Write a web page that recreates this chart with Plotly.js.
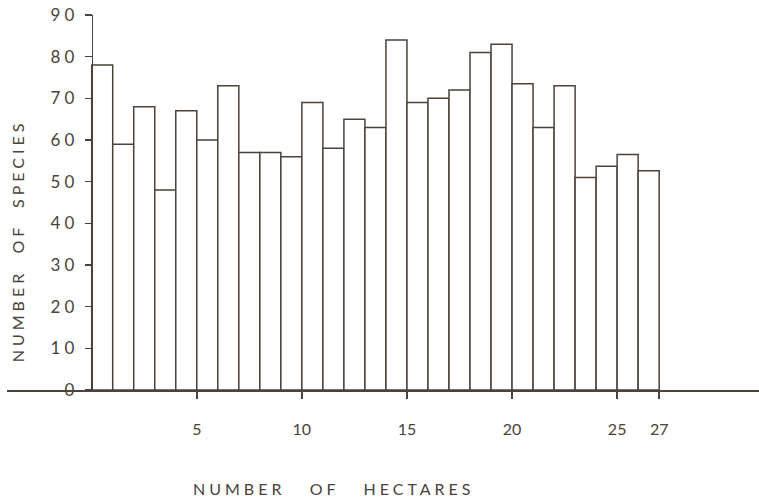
<!DOCTYPE html>
<html>
<head>
<meta charset="utf-8">
<script src="https://cdn.plot.ly/plotly-3.0.1.min.js"></script>
<style>
  html, body { margin: 0; padding: 0; background: #ffffff; }
  #chart { width: 759px; height: 501px; }
  .ytick text { letter-spacing: 4px; }
  .annotation-text { letter-spacing: 4px; }
</style>
</head>
<body>
<div id="chart"></div>
<script>
// Hectare number (each bar spans from hectare-1 to hectare)
var hectares = [1, 2, 3, 4, 5, 6, 7, 8, 9, 10, 11, 12, 13, 14, 15, 16, 17, 18, 19, 20, 21, 22, 23, 24, 25, 26, 27];
// Number of species per hectare
var species = [78, 59, 68, 48, 67, 60, 73, 57, 57, 56, 69, 58, 65, 63, 84, 69, 70, 72, 81, 83, 73.5, 63, 73, 51, 53.7, 56.5, 52.6];
// Axis ticks
var xTickVals = [5, 10, 15, 20, 25, 27];
var xTickText = ['5', '10', '15', '20', '25', '27'];
var yTickVals = [0, 10, 20, 30, 40, 50, 60, 70, 80, 90];
var yTickText = ['0', '10', '20', '30', '40', '50', '60', '70', '80', '90'];
var xTitle = 'NUMBER   OF   HECTARES';
var yTitle = 'NUMBER  OF  SPECIES';

var ink = '#4a423b';
var fontFam = 'Lato, "Open Sans", "DejaVu Sans", sans-serif';

var trace = {
  type: 'bar',
  x: hectares,
  y: species,
  width: 1,
  offset: -1,
  marker: { color: '#ffffff', line: { color: ink, width: 1.5 } },
  hoverinfo: 'x+y'
};

var layout = {
  width: 759,
  height: 501,
  margin: { l: 7, r: 0, t: 15, b: 111, pad: 0 },
  paper_bgcolor: '#ffffff',
  plot_bgcolor: 'rgba(0,0,0,0)',
  showlegend: false,
  bargap: 0,
  font: { family: fontFam, color: ink },
  xaxis: {
    range: [-4.03, 31.75],
    showgrid: false,
    zeroline: false,
    showline: true,
    linecolor: ink,
    linewidth: 1.6,
    ticks: 'outside',
    ticklen: 7,
    tickwidth: 1.5,
    tickcolor: ink,
    tickmode: 'array',
    tickvals: xTickVals,
    ticktext: xTickText,
    ticklabelstandoff: 17,
    tickfont: { family: fontFam, size: 16, color: ink },
    fixedrange: true
  },
  yaxis: {
    range: [0, 90],
    anchor: 'free',
    position: 0.11263,
    showgrid: false,
    zeroline: false,
    showline: true,
    linecolor: ink,
    linewidth: 1.6,
    ticks: 'outside',
    ticklen: 7,
    tickwidth: 1.5,
    tickcolor: ink,
    tickmode: 'array',
    tickvals: yTickVals,
    ticktext: yTickText,
    ticklabelstandoff: 3,
    tickfont: { family: fontFam, size: 17, color: ink },
    fixedrange: true
  },
  annotations: [
    {
      text: xTitle,
      xref: 'x', yref: 'paper',
      x: 11.55, y: -0.262,
      xanchor: 'center', yanchor: 'middle',
      showarrow: false,
      font: { family: fontFam, size: 16, color: ink }
    },
    {
      text: yTitle,
      xref: 'paper', yref: 'y',
      x: 0.0133, y: 35.7,
      xanchor: 'center', yanchor: 'middle',
      textangle: -90,
      showarrow: false,
      font: { family: fontFam, size: 16, color: ink }
    }
  ]
};

Plotly.newPlot('chart', [trace], layout, { displayModeBar: false, staticPlot: true });
</script>
</body>
</html>
